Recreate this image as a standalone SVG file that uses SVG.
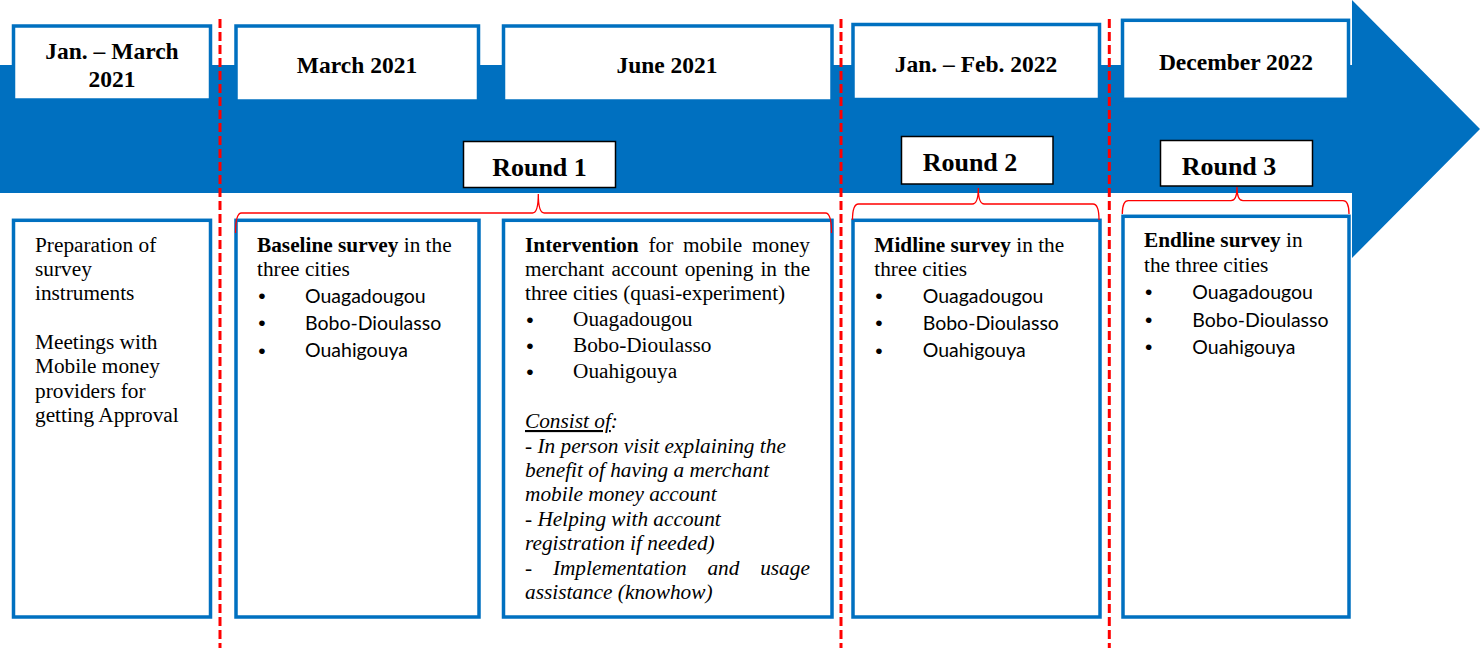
<svg xmlns="http://www.w3.org/2000/svg" width="1480" height="648" viewBox="0 0 1480 648">
<style>
.box{fill:#fff;stroke:#0070C0;stroke-width:3.5}
.rbox{fill:#fff;stroke:#000;stroke-width:1.5}
.hdr{font-family:"Liberation Serif",serif;font-weight:bold;font-size:23.5px;fill:#000;text-anchor:middle}
.rnd{font-family:"Liberation Serif",serif;font-weight:bold;font-size:26px;fill:#000;text-anchor:middle}
.t{font-family:"Liberation Serif",serif;font-size:21.3px;fill:#000}
.b{font-weight:bold}
.i{font-style:italic}
.c{font-family:Lato,"Liberation Sans",sans-serif;font-size:19.5px;fill:#000}
.bul{font-family:"Liberation Sans",sans-serif;font-size:21px;fill:#000}
.sep{stroke:#FF0000;stroke-width:3;stroke-dasharray:9 4;fill:none}
.brace{stroke:#FF0000;stroke-width:1.3;fill:none}
</style>
<polygon id="timeline" points="0,65 1352,65 1352,0 1480,129 1352,258 1352,193 0,193" fill="#0070C0"/>

<g id="h1"><rect class="box" x="13.5" y="26" width="197" height="74"/><text class="hdr" x="112" y="59">Jan. – March</text><text class="hdr" x="112" y="87">2021</text></g>
<g id="h2"><rect class="box" x="236" y="26" width="242.5" height="75"/><text class="hdr" x="357" y="73">March 2021</text></g>
<g id="h3"><rect class="box" x="503.5" y="26" width="328.5" height="75"/><text class="hdr" x="667" y="73">June 2021</text></g>
<g id="h4"><rect class="box" x="853" y="24.5" width="246.5" height="75"/><text class="hdr" x="976" y="72">Jan. – Feb. 2022</text></g>
<g id="h5"><rect class="box" x="1122.5" y="20.3" width="226" height="79"/><text class="hdr" x="1236" y="70">December 2022</text></g>

<g id="r1"><rect class="rbox" x="463.5" y="141.5" width="152" height="46"/><text class="rnd" x="539.5" y="175.5">Round 1</text></g>
<g id="r2"><rect class="rbox" x="901.5" y="136.5" width="151.5" height="47.5"/><text class="rnd" x="970" y="171">Round 2</text></g>
<g id="r3"><rect class="rbox" x="1160.5" y="140.5" width="152" height="45.5"/><text class="rnd" x="1229" y="175">Round 3</text></g>

<g id="c1"><rect class="box" x="13.5" y="220.3" width="197" height="396.7"/>
<text class="t" x="35"><tspan x="35" y="251.7">Preparation of</tspan><tspan x="35" y="276">survey</tspan><tspan x="35" y="300.4">instruments</tspan><tspan x="35" y="349">Meetings with</tspan><tspan x="35" y="373.4">Mobile money</tspan><tspan x="35" y="397.8">providers for</tspan><tspan x="35" y="422.2">getting Approval</tspan></text></g>

<g id="c2"><rect class="box" x="236" y="220.3" width="243" height="396.7"/>
<text class="t" x="257" y="251.7"><tspan class="b">Baseline survey</tspan> in the</text>
<text class="t" x="257" y="276">three cities</text>
<text class="bul" x="258.3" y="303">•</text><text class="c" x="305" y="303">Ouagadougou</text>
<text class="bul" x="258.3" y="330">•</text><text class="c" x="305" y="329.5">Bobo-Dioulasso</text>
<text class="bul" x="258.3" y="358">•</text><text class="c" x="305" y="357">Ouahigouya</text></g>

<g id="c3"><rect class="box" x="503.5" y="220.3" width="328.5" height="396.7"/>
<text class="t" y="251.7"><tspan class="b" x="525">Intervention</tspan><tspan x="648.4">for</tspan><tspan x="683">mobile</tspan><tspan x="752">money</tspan></text>
<text class="t" y="276"><tspan x="525">merchant</tspan><tspan x="611.4">account</tspan><tspan x="684.7">opening</tspan><tspan x="760.4">in</tspan><tspan x="784.1">the</tspan></text>
<text class="t" x="525" y="300.4">three cities (quasi-experiment)</text>
<text class="bul" x="526.3" y="326.5">•</text><text class="t" x="573" y="326">Ouagadougou</text>
<text class="bul" x="526.3" y="352.5">•</text><text class="t" x="573" y="352">Bobo-Dioulasso</text>
<text class="bul" x="526.3" y="378.5">•</text><text class="t" x="573" y="378">Ouahigouya</text>
<text class="t i" x="525" y="428"><tspan text-decoration="underline">Consist of</tspan>:</text>
<text class="t i" x="525" y="452.5">- In person visit explaining the</text>
<text class="t i" x="525" y="477">benefit of having a merchant</text>
<text class="t i" x="525" y="501.4">mobile money account</text>
<text class="t i" x="525" y="525.8">- Helping with account</text>
<text class="t i" x="525" y="550.2">registration if needed)</text>
<text class="t i" y="574.6"><tspan x="525">-</tspan><tspan x="552.9">Implementation</tspan><tspan x="707.4">and</tspan><tspan x="760.2">usage</tspan></text>
<text class="t i" x="525" y="599">assistance (knowhow)</text></g>

<g id="c4"><rect class="box" x="853" y="220.3" width="247" height="396.7"/>
<text class="t" x="874.3" y="251.7"><tspan class="b">Midline survey</tspan> in the</text>
<text class="t" x="874.3" y="276">three cities</text>
<text class="bul" x="875.3" y="303">•</text><text class="c" x="922.7" y="303.3">Ouagadougou</text>
<text class="bul" x="875.3" y="330">•</text><text class="c" x="922.7" y="329.5">Bobo-Dioulasso</text>
<text class="bul" x="875.3" y="358">•</text><text class="c" x="922.7" y="357.3">Ouahigouya</text></g>

<g id="c5"><rect class="box" x="1123" y="216.3" width="226" height="400.7"/>
<text class="t" x="1144" y="247.3"><tspan class="b">Endline survey</tspan> in</text>
<text class="t" x="1144" y="271.7">the three cities</text>
<text class="bul" x="1145" y="299">•</text><text class="c" x="1192.3" y="299.3">Ouagadougou</text>
<text class="bul" x="1145" y="326.6">•</text><text class="c" x="1192.3" y="326.7">Bobo-Dioulasso</text>
<text class="bul" x="1145" y="354">•</text><text class="c" x="1192.3" y="354">Ouahigouya</text></g>

<g id="separators">
<line class="sep" x1="220" y1="19" x2="220" y2="648"/>
<line class="sep" x1="841" y1="19" x2="841" y2="648"/>
<line class="sep" x1="1109.3" y1="19" x2="1109.3" y2="648"/>
</g>

<g id="connectors">
<path class="brace" d="M235.5,233 Q235.5,213 241.5,213 L532.5,213 Q538.3,213 538.3,194 Q538.3,213 544.3,213 L825.5,213 Q831.5,213 831.5,233"/>
<path class="brace" d="M852.5,220 Q852.5,204 858.5,204 L972.3,204 Q978.3,204 978.3,188 Q978.3,204 984.3,204 L1093,204 Q1099,204 1099,220"/>
<path class="brace" d="M1122.3,214 Q1122.3,200.7 1128.3,200.7 L1231,200.7 Q1237,200.7 1237,187 Q1237,200.7 1243,200.7 L1343,200.7 Q1349,200.7 1349,214"/>
</g>
</svg>
